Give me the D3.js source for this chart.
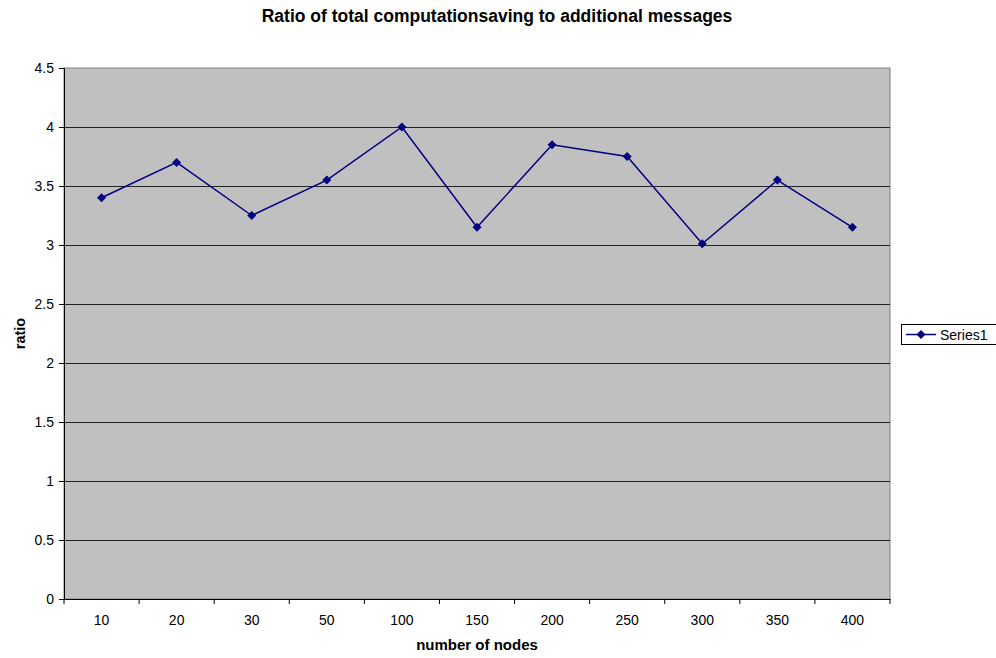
<!DOCTYPE html>
<meta charset="utf-8">
<style>
body { margin: 0; background: #fff; }
text { font-family: "Liberation Sans", Arial, sans-serif; }
</style>
<body>
<script src="https://d3js.org/d3.v7.min.js"></script>
<script>

var categories = ["10", "20", "30", "50", "100", "150", "200", "250", "300", "350", "400"];
var series1 = [3.4, 3.7, 3.25, 3.55, 4.0, 3.15, 3.85, 3.75, 3.01, 3.55, 3.15];
var yTicks = [0, 0.5, 1, 1.5, 2, 2.5, 3, 3.5, 4, 4.5];

var w = 996, h = 658;
var margin = {top: 68, right: 106, bottom: 59, left: 64},
    width = w - margin.left - margin.right,
    height = h - margin.top - margin.bottom;

var svg = d3.select("body").append("svg")
    .attr("width", w)
    .attr("height", h);

var x = d3.scaleBand().domain(categories).range([0, width]);
var y = d3.scaleLinear().domain([0, 4.5]).range([height, 0]);

var g = svg.append("g").attr("transform", "translate(" + margin.left + "," + margin.top + ")");

// plot area
g.append("rect")
    .attr("width", width).attr("height", height)
    .attr("fill", "#c0c0c0")
    .attr("stroke", "#808080").attr("stroke-width", 1);

// gridlines
g.selectAll(".grid")
    .data(yTicks.filter(function(d) { return d > 0 && d < 4.5; }))
    .enter().append("line")
    .attr("x1", 0).attr("x2", width)
    .attr("y1", function(d) { return Math.round(y(d)) + 0.5; })
    .attr("y2", function(d) { return Math.round(y(d)) + 0.5; })
    .attr("stroke", "#222").attr("stroke-width", 1);

// y axis
var yAxis = g.append("g")
    .call(d3.axisLeft(y).tickValues(yTicks).tickSize(5).tickPadding(5).tickFormat(d3.format("")));
yAxis.select(".domain").attr("stroke", "#000");
yAxis.selectAll("text").attr("font-size", 14).attr("fill", "#000");

// x axis with ticks between categories
var xAxis = g.append("g").attr("transform", "translate(0," + height + ")")
    .call(d3.axisBottom(x).tickSize(0).tickPadding(16));
xAxis.select(".domain").attr("stroke", "#000");
xAxis.selectAll("text").attr("font-size", 14).attr("fill", "#000");
xAxis.selectAll(".sep")
    .data(d3.range(categories.length + 1))
    .enter().append("line")
    .attr("x1", function(i) { return i * x.bandwidth(); })
    .attr("x2", function(i) { return i * x.bandwidth(); })
    .attr("y1", 0).attr("y2", 5)
    .attr("stroke", "#000");

// series line
var line = d3.line()
    .x(function(d, i) { return x(categories[i]) + x.bandwidth() / 2; })
    .y(function(d) { return y(d); });

g.append("path").datum(series1)
    .attr("d", line)
    .attr("fill", "none")
    .attr("stroke", "#000080").attr("stroke-width", 1.5);

var diamond = "M0,-4.5L4.5,0L0,4.5L-4.5,0Z";
g.selectAll(".pt").data(series1).enter().append("path")
    .attr("d", diamond)
    .attr("transform", function(d, i) {
        return "translate(" + (x(categories[i]) + x.bandwidth() / 2) + "," + y(d) + ")";
    })
    .attr("fill", "#000080");

// title
svg.append("text")
    .attr("x", 497).attr("y", 22)
    .attr("text-anchor", "middle")
    .attr("font-size", 17.5).attr("font-weight", "bold")
    .text("Ratio of total computationsaving to additional messages");

// axis titles
svg.append("text")
    .attr("x", margin.left + width / 2).attr("y", 650)
    .attr("text-anchor", "middle")
    .attr("font-size", 15).attr("font-weight", "bold")
    .text("number of nodes");

svg.append("text")
    .attr("transform", "translate(25," + (margin.top + height / 2) + ") rotate(-90)")
    .attr("text-anchor", "middle")
    .attr("font-size", 14.5).attr("font-weight", "bold")
    .text("ratio");

// legend
var lg = svg.append("g").attr("transform", "translate(901,324)");
lg.append("rect").attr("x", 0.5).attr("y", 0.5).attr("width", 96).attr("height", 20)
    .attr("fill", "#fff").attr("stroke", "#000");
lg.append("line").attr("x1", 5).attr("x2", 35).attr("y1", 10.5).attr("y2", 10.5)
    .attr("stroke", "#000080").attr("stroke-width", 1.5);
lg.append("path").attr("d", diamond).attr("transform", "translate(20,10.5)").attr("fill", "#000080");
lg.append("text").attr("x", 39).attr("y", 15.5).attr("font-size", 14).text("Series1");

</script>
</body>
